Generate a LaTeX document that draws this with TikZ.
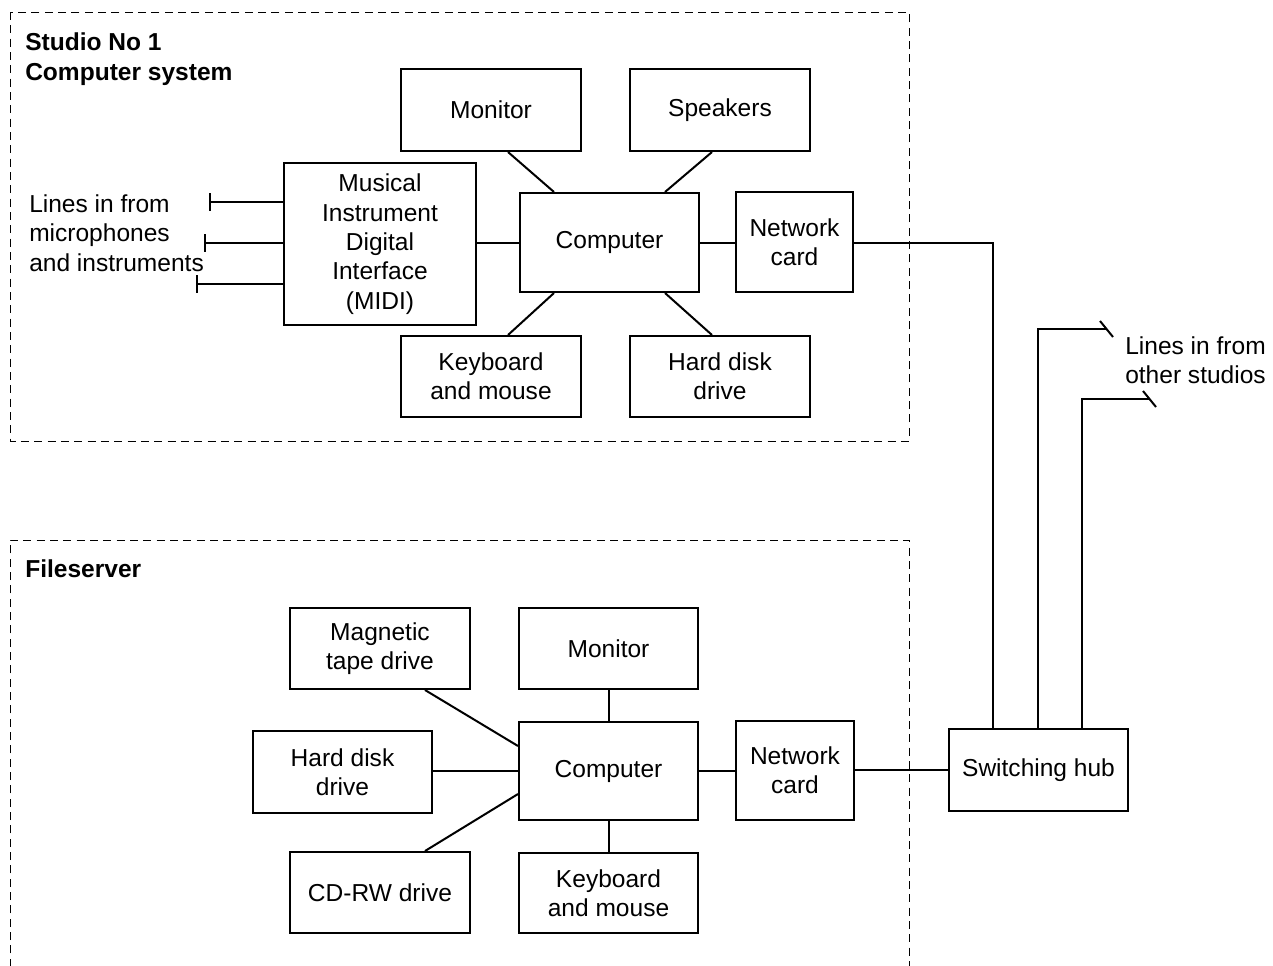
\documentclass[tikz,border=0pt]{standalone}
\usepackage{fontspec}
\setmainfont{Liberation Sans}
\begin{document}
\begin{tikzpicture}[x=0.75pt,y=-0.75pt,
  box/.style={draw,line width=1.5pt,align=center,inner sep=0pt,font=\fontsize{18.4}{22}\selectfont},
  conn/.style={line width=1.5pt},
  group/.style={draw,line width=0.75pt,dash pattern=on 6pt off 4pt},
  lbl/.style={align=left,inner sep=0pt,anchor=north west,font=\fontsize{18.4}{22.3}\selectfont},
  ttl/.style={align=left,inner sep=0pt,anchor=north west,font=\fontsize{18.4}{22.5}\selectfont\bfseries}]
\useasboundingbox (0,0) rectangle (1273,965);
% groups
\draw[group] (10,12) rectangle (909,441);
\draw[group] (10,980) -- (10,540) -- (909,540) -- (909,980);
\node[ttl] (t1) at (25,32) {Studio No 1\\Computer system};
\node[ttl] (t2) at (25,559) {Fileserver};
% top boxes
\node[box,minimum width=135pt,minimum height=61.5pt] (mon1) at (491,110) {Monitor};
\node[box,minimum width=135pt,minimum height=61.5pt] (spk1) at (720,110) {Speakers};
\node[box,minimum width=144pt,minimum height=121.5pt] (midi) at (380,244) {Musical\\Instrument\\Digital\\Interface\\(MIDI)};
\node[box,minimum width=134.25pt,minimum height=74.25pt] (comp1) at (609.5,242.5) {Computer};
\node[box,minimum width=87.75pt,minimum height=75pt] (net1) at (794.5,242) {Network\\card};
\node[box,minimum width=135pt,minimum height=60.75pt] (kb1) at (491,376.5) {Keyboard\\and mouse};
\node[box,minimum width=135pt,minimum height=60.75pt] (hd1) at (720,376.5) {Hard disk\\drive};
% bottom boxes
\node[box,minimum width=135pt,minimum height=60.75pt] (tape) at (380,648.5) {Magnetic\\tape drive};
\node[box,minimum width=134.25pt,minimum height=60.75pt] (mon2) at (608.5,648.5) {Monitor};
\node[box,minimum width=134.25pt,minimum height=61.5pt] (hd2) at (342.5,772) {Hard disk\\drive};
\node[box,minimum width=134.25pt,minimum height=73.5pt] (comp2) at (608.5,771) {Computer};
\node[box,minimum width=135pt,minimum height=60.75pt] (cd) at (380,892.5) {CD-RW drive};
\node[box,minimum width=134.25pt,minimum height=60pt] (kb2) at (608.5,893) {Keyboard\\and mouse};
\node[box,minimum width=88.5pt,minimum height=74.25pt] (net2) at (795,770.5) {Network\\card};
\node[box,minimum width=134.25pt,minimum height=61.5pt] (hub) at (1038.5,770) {Switching hub};
% labels
\node[lbl] (lin1) at (29,194) {Lines in from\\microphones\\and instruments};
\node[lbl] (lin2) at (1125,336) {Lines in from\\other studios};
% top connectors
\draw[conn] (mon1.south -| 508,0) -- (comp1.north -| 554,0);
\draw[conn] (spk1.south -| 712,0) -- (comp1.north -| 665,0);
\draw[conn] (kb1.north -| 508,0) -- (comp1.south -| 554,0);
\draw[conn] (hd1.north -| 712,0) -- (comp1.south -| 665,0);
\draw[conn] (midi.east |- 0,243) -- (comp1.west |- 0,243);
\draw[conn] (comp1.east |- 0,243) -- (net1.west |- 0,243);
\coordinate (i1) at (210,202);
\coordinate (i2) at (205,243);
\coordinate (i3) at (197,284);
\draw[conn] (midi.west |- i1) -- (i1) ++(0,-9) -- ++(0,18);
\draw[conn] (midi.west |- i2) -- (i2) ++(0,-9) -- ++(0,18);
\draw[conn] (midi.west |- i3) -- (i3) ++(0,-9) -- ++(0,18);
% bottom connectors
\draw[conn] (tape.south -| 425,0) -- (comp2.west |- 0,746);
\draw[conn] (hd2.east |- 0,771) -- (comp2.west |- 0,771);
\draw[conn] (cd.north -| 425,0) -- (comp2.west |- 0,794);
\draw[conn] (mon2.south) -- (comp2.north);
\draw[conn] (kb2.north) -- (comp2.south);
\draw[conn] (comp2.east |- 0,771) -- (net2.west |- 0,771);
\draw[conn] (net2.east |- 0,770) -- (hub.west |- 0,770);
% hub connections
\coordinate (h1) at (993,243);
\coordinate (o1) at (1107,329);
\coordinate (o2) at (1150,399);
\draw[conn] (net1.east |- h1) -- (h1) -- (hub.north -| h1);
\draw[conn] (hub.north -| 1038,0) -- (1038,329) -- (o1);
\draw[conn] (1100,321) -- (1113,337);
\draw[conn] (hub.north -| 1082,0) -- (1082,399) -- (o2);
\draw[conn] (1143,391) -- (1156,407);
\end{tikzpicture}
\end{document}
